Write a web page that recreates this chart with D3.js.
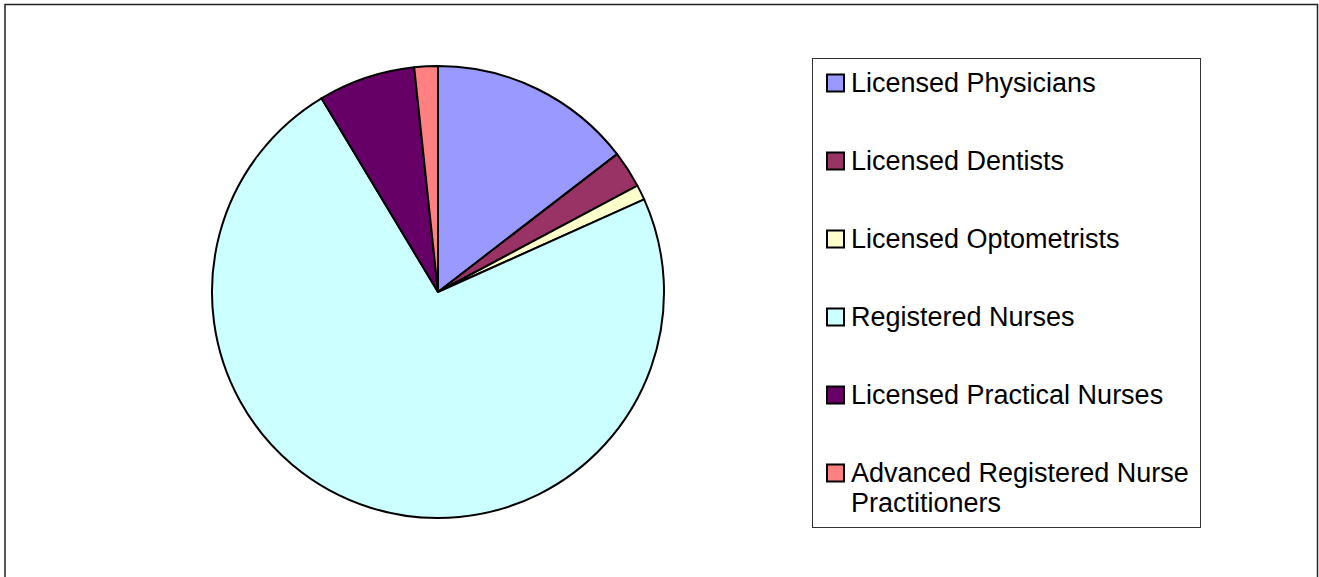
<!DOCTYPE html>
<html>
<head>
<meta charset="utf-8">
<script src="https://cdn.jsdelivr.net/npm/d3@7"></script>
<style>
  body { margin: 0; background: #fff; }
  svg { display: block; font-family: "Liberation Sans", Arial, sans-serif; }
</style>
</head>
<body>
<div id="chart"></div>
<script>
// category names (legend lines split where the original wraps)
const categories = [
  "Licensed Physicians",
  "Licensed Dentists",
  "Licensed Optometrists",
  "Registered Nurses",
  "Licensed Practical Nurses",
  "Advanced Registered Nurse Practitioners",
];
const legendLines = [
  ["Licensed Physicians"],
  ["Licensed Dentists"],
  ["Licensed Optometrists"],
  ["Registered Nurses"],
  ["Licensed Practical Nurses"],
  ["Advanced Registered Nurse", "Practitioners"],
];
// share of total (percent)
const shares = [14.56, 2.64, 1.08, 73.1, 6.94, 1.68];
const colors = ["#9999FF", "#993366", "#FFFFCC", "#CCFFFF", "#660066", "#FF8080"];

const width = 1319;
const height = 577;

const svg = d3
  .select("#chart")
  .append("svg")
  .attr("width", width)
  .attr("height", height);

// chart area border
svg
  .append("rect")
  .attr("x", 5)
  .attr("y", 4.5)
  .attr("width", 1312.5)
  .attr("height", 620)
  .attr("fill", "none")
  .attr("stroke", "#222")
  .attr("stroke-width", 1.5);

const cx = 438;
const cy = 292;
const radius = 226;

const data = categories.map((name, i) => ({ name, value: shares[i], color: colors[i] }));

const pie = d3.pie().sort(null).value((d) => d.value);
const arc = d3.arc().innerRadius(0).outerRadius(radius);

svg
  .append("g")
  .attr("transform", `translate(${cx},${cy})`)
  .selectAll("path")
  .data(pie(data))
  .enter()
  .append("path")
  .attr("d", arc)
  .attr("fill", (d) => d.data.color)
  .attr("stroke", "#000")
  .attr("stroke-width", 2)
  .attr("stroke-linejoin", "round");

// legend
const legend = svg.append("g");
legend
  .append("rect")
  .attr("x", 812.5)
  .attr("y", 58.5)
  .attr("width", 388)
  .attr("height", 469)
  .attr("fill", "#fff")
  .attr("stroke", "#333")
  .attr("stroke-width", 1);

const rowY = d3
  .scalePoint()
  .domain(categories)
  .range([83, 473]);

const rows = legend
  .selectAll("g.row")
  .data(data)
  .enter()
  .append("g")
  .attr("class", "row")
  .attr("transform", (d) => `translate(0,${rowY(d.name)})`);

rows
  .append("rect")
  .attr("x", 827)
  .attr("y", -8.5)
  .attr("width", 17)
  .attr("height", 17)
  .attr("fill", (d) => d.color)
  .attr("stroke", "#000")
  .attr("stroke-width", 2);

rows
  .append("text")
  .attr("x", 851)
  .attr("y", 0)
  .attr("font-size", 27)
  .attr("fill", "#000")
  .selectAll("tspan")
  .data((d, i) => legendLines[i])
  .enter()
  .append("tspan")
  .attr("x", 851)
  .attr("dy", (t, j) => (j === 0 ? "0.35em" : 30))
  .text((t) => t);
</script>
</body>
</html>
